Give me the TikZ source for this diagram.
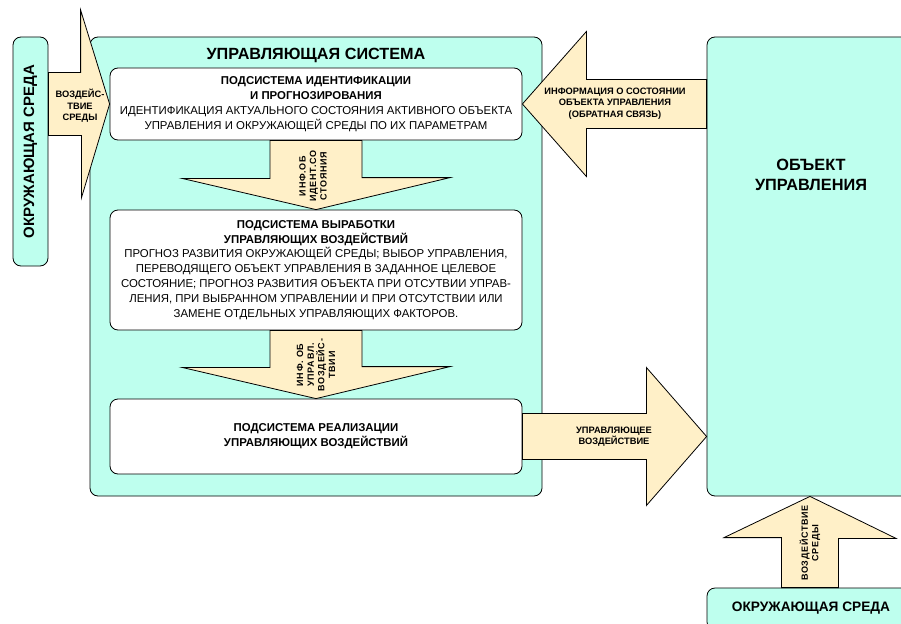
\documentclass[tikz,border=0pt]{standalone}
\usepackage{fontspec}
\setmainfont{Liberation Sans}
\newfontfamily\spacedfont{Liberation Sans}[LetterSpace=8]
\usetikzlibrary{calc}
\definecolor{mint}{RGB}{190,255,238}
\definecolor{cream}{RGB}{255,240,200}

\begin{document}
\begin{tikzpicture}[x=1pt,y=-1pt,
  panel/.style={draw=black, line width=0.8pt, fill=mint, rounded corners=8pt, inner sep=0pt},
  subbox/.style={draw=black, line width=0.8pt, fill=white, rounded corners=8pt, inner sep=0pt,
    minimum width=412pt, align=center, font=\fontsize{11.4}{14.9}\selectfont},
  barrow/.style={draw=black, line width=0.8pt, fill=cream, line join=miter},
  alabel/.style={font=\bfseries\fontsize{9.3}{11.6}\selectfont, align=center, inner sep=0pt},
  vlabel/.style={font=\spacedfont\bfseries\fontsize{9}{10.6}\selectfont, align=center, inner sep=0pt, rotate=90},
  bigtitle/.style={font=\bfseries\fontsize{15}{20}\selectfont, align=center, inner sep=0pt}
]
\useasboundingbox (0,0) rectangle (901,623);
\clip (0,0) rectangle (901,623);

% panels
\node[panel, minimum width=452pt, minimum height=459pt] (ctrl) at (316,266.5) {};
\node[panel, minimum width=206pt, minimum height=459pt] (obj) at (810,266.5) {};
\node[panel, minimum width=35pt, minimum height=229pt] (env) at (30.5,151.5) {};
\node[panel, minimum width=206pt, minimum height=42pt] (env2) at (810,609) {};

% subsystems
\node[subbox, minimum height=72pt] (s1) at (316,104) {%
  \textbf{ПОДСИСТЕМА ИДЕНТИФИКАЦИИ}\\
  \textbf{И ПРОГНОЗИРОВАНИЯ}\\
  ИДЕНТИФИКАЦИЯ АКТУАЛЬНОГО СОСТОЯНИЯ АКТИВНОГО ОБЪЕКТА\\
  УПРАВЛЕНИЯ И ОКРУЖАЮЩЕЙ СРЕДЫ ПО ИХ ПАРАМЕТРАМ};
\node[subbox, minimum height=120pt] (s2) at (316,270) {%
  \textbf{ПОДСИСТЕМА ВЫРАБОТКИ}\\
  \textbf{УПРАВЛЯЮЩИХ ВОЗДЕЙСТВИЙ}\\
  ПРОГНОЗ РАЗВИТИЯ ОКРУЖАЮЩЕЙ СРЕДЫ; ВЫБОР УПРАВЛЕНИЯ,\\
  ПЕРЕВОДЯЩЕГО ОБЪЕКТ УПРАВЛЕНИЯ В ЗАДАННОЕ ЦЕЛЕВОЕ\\
  СОСТОЯНИЕ; ПРОГНОЗ РАЗВИТИЯ ОБЪЕКТА ПРИ ОТСУТВИИ УПРАВ-\\
  ЛЕНИЯ, ПРИ ВЫБРАННОМ УПРАВЛЕНИИ И ПРИ ОТСУТСТВИИ ИЛИ\\
  ЗАМЕНЕ ОТДЕЛЬНЫХ УПРАВЛЯЮЩИХ ФАКТОРОВ.};
\node[subbox, minimum height=75pt] (s3) at (316,436.5) {%
  \textbf{ПОДСИСТЕМА РЕАЛИЗАЦИИ}\\
  \textbf{УПРАВЛЯЮЩИХ ВОЗДЕЙСТВИЙ}};

% helper points for the block arrows
\coordinate (envtop) at ($(s1.west)+(-29,-31.5)$);
\coordinate (fbtop) at ($(s1.east)+(64,-24.5)$);
\coordinate (fbbot) at ($(s1.east)+(64,24.5)$);

% environment -> identification subsystem
\draw[barrow] (s1.west) -- ++(-29,-94) -- ++(0,62.5) -- (env.east |- envtop)
  -- ++(0,63) -- ++(33,0) -- ++(0,62.5) -- cycle;
% identification -> decision
\draw[barrow] ($(s1.south)+(-46,0)$) -- ++(0,38) -- ++(-88,0) -- (s2.north)
  -- ++(134,-32) -- ++(-88,0) -- ($(s1.south)+(46,0)$) -- cycle;
% decision -> realisation
\draw[barrow] ($(s2.south)+(-46,0)$) -- ++(0,37) -- ++(-88,0) -- (s3.north)
  -- ++(134,-32) -- ++(-88,0) -- ($(s2.south)+(46,0)$) -- cycle;
% realisation -> controlled object
\draw[barrow] ($(s3.east)+(0,-23)$) -- ++(124,0) -- ++(0,-46) -- (obj.west |- s3.east)
  -- ($(s3.east)+(124,69)$) -- ++(0,-46) -- ($(s3.east)+(0,23)$) -- cycle;
% feedback: controlled object -> identification
\draw[barrow] (s1.east) -- ++(64,-72.5) -- (fbtop) -- (obj.west |- fbtop)
  -- (obj.west |- fbbot) -- (fbbot) -- ++(0,48) -- cycle;
% environment -> controlled object
\draw[barrow] ($(env2.north)+(-28.5,0)$) -- ++(0,-50) -- ++(-57.5,0) -- (obj.south)
  -- ++(86,42) -- ++(-57.5,0) -- ($(env2.north)+(28.5,0)$) -- cycle;

% titles
\node[bigtitle, font=\bfseries\fontsize{16.2}{20}\selectfont] (ctrltitle) at (316,55) {УПРАВЛЯЮЩАЯ СИСТЕМА};
\node[bigtitle, font=\bfseries\fontsize{16.3}{20}\selectfont] (objtitle) at (811,175) {ОБЪЕКТ\\УПРАВЛЕНИЯ};
\node[bigtitle, rotate=90] (envtitle) at (30.5,151.5) {ОКРУЖАЮЩАЯ СРЕДА};
\node[bigtitle, font=\bfseries\fontsize{13.7}{20}\selectfont] (env2title) at (811,608) {ОКРУЖАЮЩАЯ СРЕДА};

% arrow labels
\node[alabel] (lbl1) at (80,106) {ВОЗДЕЙС-\\ТВИЕ\\СРЕДЫ};
\node[alabel] (lbl2) at (615,103.5) {ИНФОРМАЦИЯ О СОСТОЯНИИ\\ОБЪЕКТА УПРАВЛЕНИЯ\\(ОБРАТНАЯ СВЯЗЬ)};
\node[alabel] (lbl3) at (614,436.5) {УПРАВЛЯЮЩЕЕ\\ВОЗДЕЙСТВИЕ};
\node[vlabel] (lbl4) at (313,176) {ИНФ.ОБ\\ИДЕНТ.СО\\СТОЯНИЯ};
\node[vlabel] (lbl5) at (316,365) {ИНФ. ОБ\\УПРАВЛ.\\ВОЗДЕЙС-\\ТВИИ};
\node[vlabel] (lbl6) at (810,543) {ВОЗДЕЙСТВИЕ\\СРЕДЫ};
\end{tikzpicture}
\end{document}
